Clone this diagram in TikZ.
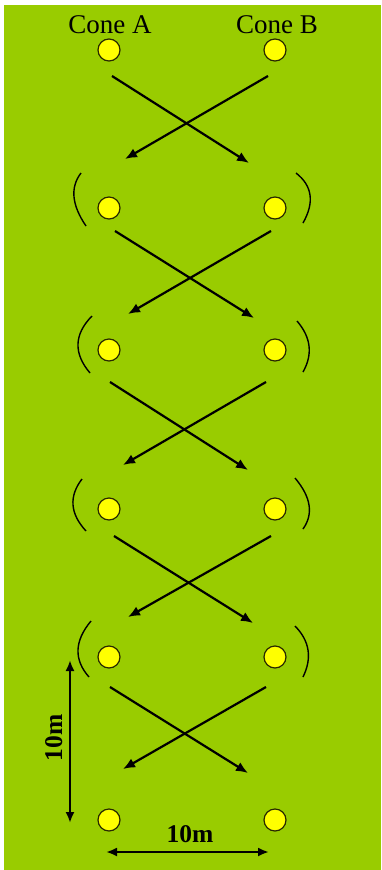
\documentclass[tikz,border=0pt]{standalone}
\usepackage{fontspec}
\setmainfont{Liberation Serif}
\usetikzlibrary{arrows.meta}
\definecolor{field}{RGB}{153,204,0}
\definecolor{coney}{RGB}{255,255,0}
\definecolor{conerim}{RGB}{40,40,0}
\tikzset{
  cone/.style={circle,draw=conerim,line width=1.2pt,fill=coney,minimum size=22pt,inner sep=0pt},
  run/.style={line width=2.2pt,-{Latex[length=12pt,width=10pt]}},
  bracket/.style={line width=1.4pt},
  dim/.style={line width=2.2pt,{Latex[length=11pt,width=9pt]}-{Latex[length=11pt,width=9pt]}},
  lab/.style={font=\fontsize{27}{30}\selectfont,inner sep=0pt,anchor=base},
  dimlab/.style={font=\fontsize{25.5}{28}\selectfont\bfseries,inner sep=0pt,anchor=base}
}
\begin{document}
\begin{tikzpicture}[x=1pt,y=-1pt]
\useasboundingbox (0,0) rectangle (381,870);
\fill[white] (0,0) rectangle (381,870);
\fill[field] (4,5) rectangle (381,870);
% labels
\node[lab] (la) at (110,33) {Cone A};
\node[lab] (lb) at (277,33) {Cone B};
% cones
\foreach \i/\y in {0/50,1/208,2/350,3/509,4/657,5/820}{
  \node[cone] (a\i) at (109,\y) {};
  \node[cone] (b\i) at (275,\y) {};
}
% run arrows (start/end coordinates)
\coordinate (r0s) at (112,76);  \coordinate (r0e) at (249,163);
\coordinate (l0s) at (268,76);  \coordinate (l0e) at (125,159);
\coordinate (r1s) at (115,231); \coordinate (r1e) at (254,318);
\coordinate (l1s) at (271,231); \coordinate (l1e) at (128,314);
\coordinate (r2s) at (110,382); \coordinate (r2e) at (248,470);
\coordinate (l2s) at (266,382); \coordinate (l2e) at (123,465);
\coordinate (r3s) at (114,536); \coordinate (r3e) at (253,623);
\coordinate (l3s) at (271,536); \coordinate (l3e) at (128,617);
\coordinate (r4s) at (110,687); \coordinate (r4e) at (248,773);
\coordinate (l4s) at (266,687); \coordinate (l4e) at (123,769);
\foreach \i in {0,...,4}{
  \draw[run] (r\i s) -- (r\i e);
  \draw[run] (l\i s) -- (l\i e);
}
% brackets
\draw[bracket] (81,173) .. controls (70,187.3) and (71.7,205) .. (86,226);
\draw[bracket] (296,173) .. controls (312.3,185.7) and (314.7,202.3) .. (303,223);
\draw[bracket] (92,316) .. controls (74,334.3) and (73.3,353.3) .. (90,373);
\draw[bracket] (297,321) .. controls (311,337.3) and (313,354.3) .. (303,372);
\draw[bracket] (82,479) .. controls (68.7,496.3) and (70,513.7) .. (86,531);
\draw[bracket] (295,478) .. controls (311,497) and (313.7,514) .. (303,529);
\draw[bracket] (91,621) .. controls (74.3,641) and (73.7,659.7) .. (89,677);
\draw[bracket] (295,626) .. controls (309.7,641) and (312.3,658) .. (303,677);
% dimensions
\coordinate (v1) at (70,660); \coordinate (v2) at (70,823);
\coordinate (h1) at (106,852); \coordinate (h2) at (269,852);
\draw[dim] (v1) -- (v2);
\draw[dim] (h1) -- (h2);
\node[dimlab,rotate=90] (dv) at (62,738) {10m};
\node[dimlab] (dh) at (190,842) {10m};
\end{tikzpicture}
\end{document}
